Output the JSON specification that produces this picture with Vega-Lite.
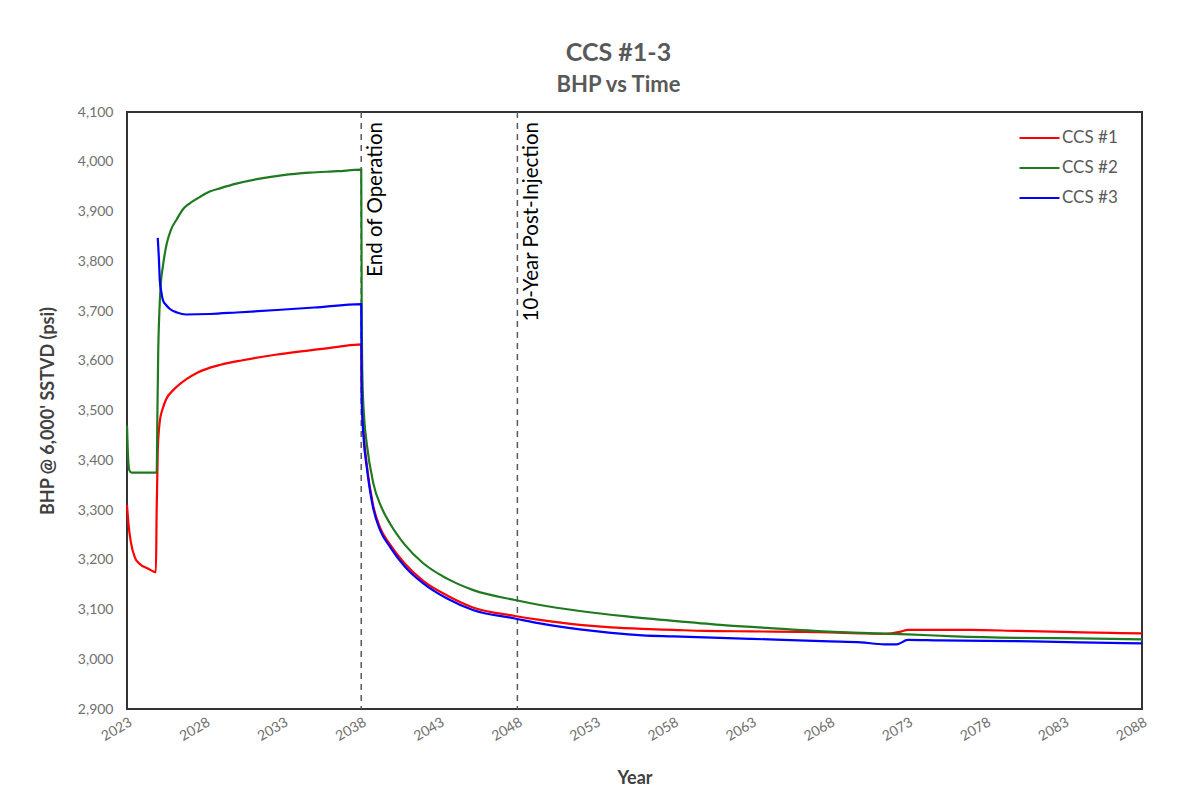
{
  "$schema": "https://vega.github.io/schema/vega-lite/v6.json",
  "autosize": {"type": "none"},
  "width": 1015,
  "height": 597,
  "padding": {"left": 127, "top": 112, "right": 53, "bottom": 95},
  "background": "white",
  "title": {
    "text": "CCS #1-3",
    "subtitle": "BHP vs Time",
    "anchor": "middle",
    "dx": -16,
    "offset": 9,
    "font": "Lato",
    "fontSize": 25,
    "fontWeight": "bold",
    "color": "#595959",
    "subtitleFont": "Lato",
    "subtitleFontSize": 22,
    "subtitleFontWeight": "bold",
    "subtitleColor": "#595959",
    "subtitlePadding": 9
  },
  "config": {
    "view": {"stroke": "#333333", "strokeWidth": 2},
    "axis": {
      "grid": false,
      "domain": false,
      "ticks": false,
      "labelFont": "Lato",
      "labelFontSize": 14,
      "labelColor": "#6f6f6f",
      "titleFont": "Lato",
      "titleFontSize": 18,
      "titleFontWeight": "bold",
      "titleColor": "#404040"
    }
  },
  "datasets": {
    "series": [
      {"s": "CCS #1", "t": 2023.0, "v": 3310},
      {"s": "CCS #1", "t": 2023.1, "v": 3270},
      {"s": "CCS #1", "t": 2023.25, "v": 3235},
      {"s": "CCS #1", "t": 2023.5, "v": 3205},
      {"s": "CCS #1", "t": 2023.8, "v": 3192},
      {"s": "CCS #1", "t": 2024.3, "v": 3183},
      {"s": "CCS #1", "t": 2024.85, "v": 3175},
      {"s": "CCS #1", "t": 2024.9, "v": 3300},
      {"s": "CCS #1", "t": 2024.97, "v": 3420},
      {"s": "CCS #1", "t": 2025.1, "v": 3478},
      {"s": "CCS #1", "t": 2025.3, "v": 3505},
      {"s": "CCS #1", "t": 2025.5, "v": 3522},
      {"s": "CCS #1", "t": 2026.0, "v": 3542},
      {"s": "CCS #1", "t": 2026.8, "v": 3563},
      {"s": "CCS #1", "t": 2027.5, "v": 3576},
      {"s": "CCS #1", "t": 2029.0, "v": 3592},
      {"s": "CCS #1", "t": 2030.4, "v": 3601},
      {"s": "CCS #1", "t": 2032.5, "v": 3612},
      {"s": "CCS #1", "t": 2034.7, "v": 3621},
      {"s": "CCS #1", "t": 2036.5, "v": 3628},
      {"s": "CCS #1", "t": 2038.0, "v": 3633},
      {"s": "CCS #1", "t": 2038.03, "v": 3545},
      {"s": "CCS #1", "t": 2038.15, "v": 3460},
      {"s": "CCS #1", "t": 2038.35, "v": 3392},
      {"s": "CCS #1", "t": 2038.75, "v": 3311},
      {"s": "CCS #1", "t": 2039.2, "v": 3265},
      {"s": "CCS #1", "t": 2039.84, "v": 3231},
      {"s": "CCS #1", "t": 2040.8, "v": 3192},
      {"s": "CCS #1", "t": 2041.95, "v": 3158},
      {"s": "CCS #1", "t": 2043.5, "v": 3128},
      {"s": "CCS #1", "t": 2045.15, "v": 3104},
      {"s": "CCS #1", "t": 2047.84, "v": 3087},
      {"s": "CCS #1", "t": 2049.44, "v": 3079},
      {"s": "CCS #1", "t": 2052.0, "v": 3069},
      {"s": "CCS #1", "t": 2054.0, "v": 3064},
      {"s": "CCS #1", "t": 2056.0, "v": 3061},
      {"s": "CCS #1", "t": 2058.0, "v": 3059},
      {"s": "CCS #1", "t": 2060.0, "v": 3057},
      {"s": "CCS #1", "t": 2063.0, "v": 3056},
      {"s": "CCS #1", "t": 2066.0, "v": 3055},
      {"s": "CCS #1", "t": 2068.0, "v": 3054},
      {"s": "CCS #1", "t": 2070.0, "v": 3052},
      {"s": "CCS #1", "t": 2071.6, "v": 3051},
      {"s": "CCS #1", "t": 2072.5, "v": 3055},
      {"s": "CCS #1", "t": 2073.0, "v": 3059},
      {"s": "CCS #1", "t": 2075.0, "v": 3059},
      {"s": "CCS #1", "t": 2077.0, "v": 3059},
      {"s": "CCS #1", "t": 2080.0, "v": 3057},
      {"s": "CCS #1", "t": 2083.0, "v": 3055},
      {"s": "CCS #1", "t": 2086.0, "v": 3053},
      {"s": "CCS #1", "t": 2088.0, "v": 3052},

      {"s": "CCS #2", "t": 2023.0, "v": 3470},
      {"s": "CCS #2", "t": 2023.05, "v": 3420},
      {"s": "CCS #2", "t": 2023.15, "v": 3380},
      {"s": "CCS #2", "t": 2023.3, "v": 3375},
      {"s": "CCS #2", "t": 2024.9, "v": 3375},
      {"s": "CCS #2", "t": 2024.95, "v": 3500},
      {"s": "CCS #2", "t": 2025.0, "v": 3620},
      {"s": "CCS #2", "t": 2025.07, "v": 3696},
      {"s": "CCS #2", "t": 2025.15, "v": 3749},
      {"s": "CCS #2", "t": 2025.3, "v": 3790},
      {"s": "CCS #2", "t": 2025.55, "v": 3836},
      {"s": "CCS #2", "t": 2025.8, "v": 3862},
      {"s": "CCS #2", "t": 2026.2, "v": 3885},
      {"s": "CCS #2", "t": 2026.6, "v": 3905},
      {"s": "CCS #2", "t": 2027.0, "v": 3916},
      {"s": "CCS #2", "t": 2027.5, "v": 3926},
      {"s": "CCS #2", "t": 2028.3, "v": 3940},
      {"s": "CCS #2", "t": 2029.0, "v": 3947},
      {"s": "CCS #2", "t": 2030.0, "v": 3956},
      {"s": "CCS #2", "t": 2031.5, "v": 3966},
      {"s": "CCS #2", "t": 2033.0, "v": 3973},
      {"s": "CCS #2", "t": 2034.7, "v": 3978},
      {"s": "CCS #2", "t": 2036.5, "v": 3981},
      {"s": "CCS #2", "t": 2038.0, "v": 3984},
      {"s": "CCS #2", "t": 2038.03, "v": 3700},
      {"s": "CCS #2", "t": 2038.08, "v": 3560},
      {"s": "CCS #2", "t": 2038.2, "v": 3480},
      {"s": "CCS #2", "t": 2038.35, "v": 3434},
      {"s": "CCS #2", "t": 2038.77, "v": 3354},
      {"s": "CCS #2", "t": 2039.3, "v": 3305},
      {"s": "CCS #2", "t": 2039.84, "v": 3273},
      {"s": "CCS #2", "t": 2040.8, "v": 3230},
      {"s": "CCS #2", "t": 2041.97, "v": 3193},
      {"s": "CCS #2", "t": 2043.5, "v": 3162},
      {"s": "CCS #2", "t": 2045.18, "v": 3139},
      {"s": "CCS #2", "t": 2047.85, "v": 3119},
      {"s": "CCS #2", "t": 2049.45, "v": 3109},
      {"s": "CCS #2", "t": 2052.0, "v": 3097},
      {"s": "CCS #2", "t": 2055.0, "v": 3086},
      {"s": "CCS #2", "t": 2058.0, "v": 3077},
      {"s": "CCS #2", "t": 2061.0, "v": 3069},
      {"s": "CCS #2", "t": 2064.0, "v": 3063},
      {"s": "CCS #2", "t": 2067.0, "v": 3057},
      {"s": "CCS #2", "t": 2070.0, "v": 3053},
      {"s": "CCS #2", "t": 2073.0, "v": 3050},
      {"s": "CCS #2", "t": 2076.0, "v": 3046},
      {"s": "CCS #2", "t": 2080.0, "v": 3043},
      {"s": "CCS #2", "t": 2084.0, "v": 3042},
      {"s": "CCS #2", "t": 2088.0, "v": 3040},

      {"s": "CCS #3", "t": 2024.97, "v": 3847},
      {"s": "CCS #3", "t": 2025.05, "v": 3800},
      {"s": "CCS #3", "t": 2025.1, "v": 3762},
      {"s": "CCS #3", "t": 2025.2, "v": 3738},
      {"s": "CCS #3", "t": 2025.3, "v": 3722},
      {"s": "CCS #3", "t": 2025.5, "v": 3712},
      {"s": "CCS #3", "t": 2025.75, "v": 3704},
      {"s": "CCS #3", "t": 2026.2, "v": 3697},
      {"s": "CCS #3", "t": 2026.8, "v": 3693},
      {"s": "CCS #3", "t": 2028.3, "v": 3694},
      {"s": "CCS #3", "t": 2030.0, "v": 3697},
      {"s": "CCS #3", "t": 2032.6, "v": 3702},
      {"s": "CCS #3", "t": 2035.0, "v": 3707},
      {"s": "CCS #3", "t": 2038.0, "v": 3714},
      {"s": "CCS #3", "t": 2038.03, "v": 3521},
      {"s": "CCS #3", "t": 2038.15, "v": 3445},
      {"s": "CCS #3", "t": 2038.35, "v": 3387},
      {"s": "CCS #3", "t": 2038.75, "v": 3306},
      {"s": "CCS #3", "t": 2039.2, "v": 3260},
      {"s": "CCS #3", "t": 2039.84, "v": 3226},
      {"s": "CCS #3", "t": 2040.8, "v": 3186},
      {"s": "CCS #3", "t": 2041.95, "v": 3153},
      {"s": "CCS #3", "t": 2043.5, "v": 3122},
      {"s": "CCS #3", "t": 2045.15, "v": 3099},
      {"s": "CCS #3", "t": 2047.84, "v": 3082},
      {"s": "CCS #3", "t": 2049.44, "v": 3072},
      {"s": "CCS #3", "t": 2052.0, "v": 3060},
      {"s": "CCS #3", "t": 2054.0, "v": 3053},
      {"s": "CCS #3", "t": 2056.0, "v": 3048},
      {"s": "CCS #3", "t": 2058.0, "v": 3046},
      {"s": "CCS #3", "t": 2060.0, "v": 3044},
      {"s": "CCS #3", "t": 2063.0, "v": 3041},
      {"s": "CCS #3", "t": 2066.0, "v": 3038},
      {"s": "CCS #3", "t": 2068.0, "v": 3036},
      {"s": "CCS #3", "t": 2070.0, "v": 3034},
      {"s": "CCS #3", "t": 2071.5, "v": 3030},
      {"s": "CCS #3", "t": 2072.3, "v": 3030},
      {"s": "CCS #3", "t": 2073.0, "v": 3039},
      {"s": "CCS #3", "t": 2075.0, "v": 3038},
      {"s": "CCS #3", "t": 2078.0, "v": 3037},
      {"s": "CCS #3", "t": 2081.0, "v": 3036},
      {"s": "CCS #3", "t": 2084.0, "v": 3034},
      {"s": "CCS #3", "t": 2088.0, "v": 3032}
    ],
    "events": [
      {"year": 2038, "label": "End of Operation"},
      {"year": 2048, "label": "10-Year Post-Injection"}
    ]
  },
  "layer": [
    {
      "data": {"name": "events"},
      "mark": {"type": "rule", "color": "#595959", "strokeWidth": 1.5, "strokeDash": [6, 5]},
      "encoding": {
        "x": {"field": "year", "type": "quantitative", "scale": {"domain": [2023, 2088], "nice": false, "zero": false}}
      }
    },
    {
      "data": {"name": "series"},
      "mark": {"type": "line", "strokeWidth": 2.2, "interpolate": "monotone"},
      "encoding": {
        "x": {
          "field": "t", "type": "quantitative",
          "scale": {"domain": [2023, 2088], "nice": false, "zero": false},
          "axis": {
            "title": "Year",
            "values": [2023, 2028, 2033, 2038, 2043, 2048, 2053, 2058, 2063, 2068, 2073, 2078, 2083, 2088],
            "format": "d",
            "labelAngle": -30,
            "labelPadding": 6,
            "titlePadding": 26
          }
        },
        "y": {
          "field": "v", "type": "quantitative",
          "scale": {"domain": [2900, 4100], "nice": false, "zero": false},
          "axis": {
            "title": "BHP @ 6,000' SSTVD (psi)",
            "values": [2900, 3000, 3100, 3200, 3300, 3400, 3500, 3600, 3700, 3800, 3900, 4000, 4100],
            "format": ",d",
            "labelPadding": 14,
            "titlePadding": 20
          }
        },
        "color": {
          "field": "s", "type": "nominal",
          "scale": {"domain": ["CCS #1", "CCS #2", "CCS #3"], "range": ["#ff0000", "#1f7a1f", "#0000ff"]},
          "legend": {
            "title": null,
            "orient": "none",
            "legendX": 891,
            "legendY": 16,
            "symbolType": "stroke",
            "symbolSize": 1600,
            "symbolStrokeWidth": 2.2,
            "clipHeight": 20,
            "rowPadding": 10,
            "labelOffset": 1,
            "labelFont": "Lato",
            "labelFontSize": 17,
            "labelColor": "#595959"
          }
        }
      }
    },
    {
      "data": {"name": "events"},
      "mark": {"type": "text", "angle": 270, "align": "right", "baseline": "top", "dx": -10, "dy": 5, "font": "Lato", "fontSize": 20.5, "color": "#000000"},
      "encoding": {
        "x": {"field": "year", "type": "quantitative", "scale": {"domain": [2023, 2088], "nice": false, "zero": false}},
        "y": {"datum": 4100},
        "text": {"field": "label"}
      }
    }
  ]
}
